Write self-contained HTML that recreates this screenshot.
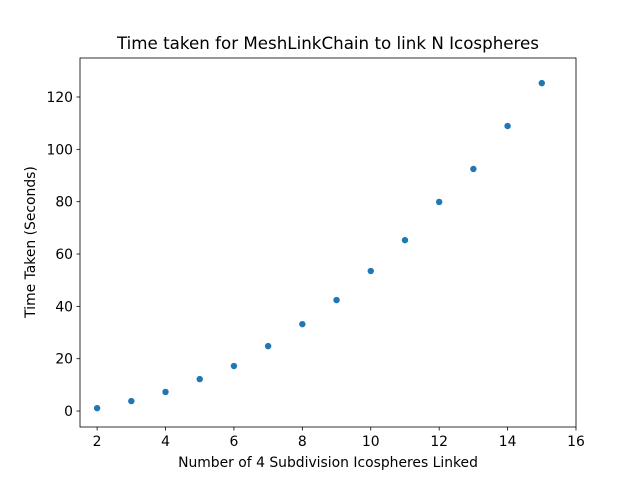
<!DOCTYPE html>
<html><head><meta charset="utf-8"><style>
body{margin:0;background:#fff;}
svg{display:block;font-family:"DejaVu Sans","Liberation Sans",sans-serif;}
</style></head><body>
<svg id="chart" width="640" height="480">
<rect width="640" height="480" fill="#fff"/>
<text x="328" y="49" text-anchor="middle" font-size="16.7">Time taken for MeshLinkChain to link N Icospheres</text>
<g id="axes"></g>
<text x="328" y="467" text-anchor="middle" font-size="13.9">Number of 4 Subdivision Icospheres Linked</text>
<text transform="translate(35,242) rotate(-90)" text-anchor="middle" font-size="13.9">Time Taken (Seconds)</text>
</svg>
<script>
const xValues=[2,3,4,5,6,7,8,9,10,11,12,13,14,15];
const yValues=[1.1,3.8,7.3,12.2,17.2,24.8,33.2,42.4,53.5,65.3,79.9,92.5,108.9,125.3];
const xTicks=[2,4,6,8,10,12,14,16];
const yTicks=[0,20,40,60,80,100,120];
const L=80,R=576,T=58,B=427;
const xMin=1.5,xMax=16,yMin=-6.1,yMax=134.9;
const sx=v=>L+(v-xMin)/(xMax-xMin)*(R-L);
const sy=v=>B-(v-yMin)/(yMax-yMin)*(B-T);
const NS="http://www.w3.org/2000/svg";
const g=document.getElementById('axes');
function mk(t,a){const e=document.createElementNS(NS,t);for(const k in a)e.setAttribute(k,a[k]);g.appendChild(e);return e;}
const frame=mk('rect',{x:L,y:T,width:R-L,height:B-T,fill:'none',stroke:'#000','stroke-width':0.8});


xTicks.forEach(v=>{
  const x=sx(v);
  const tk=mk('line',{x1:x,x2:x,y1:B,y2:B+3.5,stroke:'#000','stroke-width':0.8});
  
  
  const t=mk('text',{x:x,y:B+19,'text-anchor':'middle','font-size':13.9});
  t.textContent=v;
  
  
});
yTicks.forEach(v=>{
  const y=sy(v);
  const tk=mk('line',{x1:L-3.5,x2:L,y1:y,y2:y,stroke:'#000','stroke-width':0.8});
  
  
  const t=mk('text',{x:L-7,y:y+5,'text-anchor':'end','font-size':13.9});
  t.textContent=v;
  
  
});
xValues.forEach((v,i)=>{
  const c=mk('circle',{cx:sx(v),cy:sy(yValues[i]),r:3.2,fill:'#1f77b4'});
  
  
});
</script>
</body></html>
